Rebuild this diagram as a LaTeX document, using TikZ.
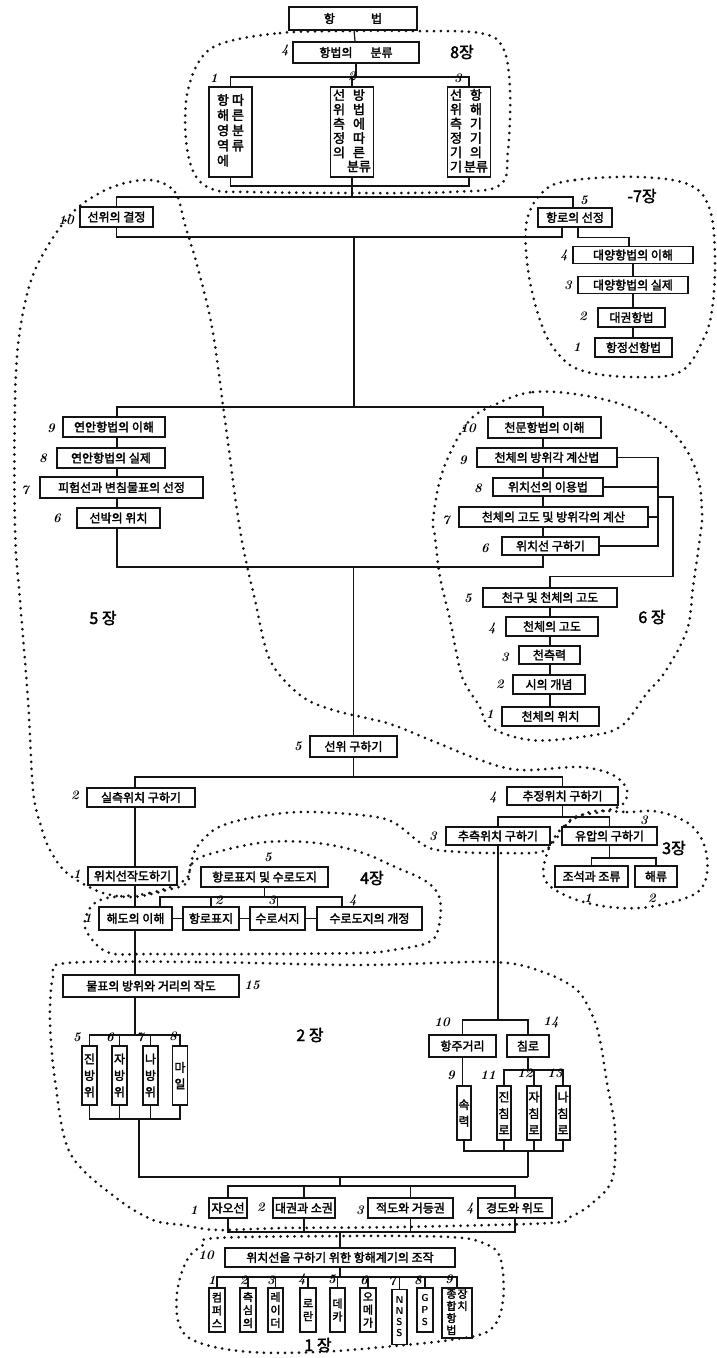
\documentclass[tikz,border=0pt]{standalone}
\usepackage{fontspec}
\newfontfamily\kr{Noto Sans CJK KR}[FakeBold=2.2]
\usetikzlibrary{backgrounds}
\definecolor{tinta}{RGB}{20,20,20}

\begin{document}
\begin{tikzpicture}[x=1pt, y=-1pt,
    caja/.style={draw=tinta, line width=1.5pt, fill=white, inner sep=1.5pt,
      minimum height=19pt, font=\kr\fontsize{12}{13}\selectfont},
    cajav/.style={caja, align=center, inner sep=1pt,
      font=\kr\fontsize{12}{16.5}\selectfont},
    cajac/.style={caja, align=center, inner sep=1pt,
      font=\kr\fontsize{11}{13}\selectfont},
    num/.style={font=\bfseries\itshape\fontsize{13}{13}\selectfont},
    jang/.style={font=\kr\fontsize{16}{16}\selectfont},
    linea/.style={draw=tinta, line width=1.2pt},
    borde/.style={draw=tinta, line width=3pt, line cap=round, dash pattern=on 0pt off 7pt}]

  \useasboundingbox (0,0) rectangle (716,1358);

  % Cabecera (항법 y su clasificación)
  \node[caja, minimum width=128, minimum height=23] (hb) at (353,18.5) {항\hspace{3em}법};
  \node[caja, minimum width=126, minimum height=21] (cls) at (356,52.5) {항법의\hspace{1.5em}분류};
  \node[caja, minimum width=43, minimum height=90, font=\kr\fontsize{13}{14}\selectfont] (v1) at (230.5,132)
    {\renewcommand\arraystretch{1.05}\begin{tabular}[t]{@{}c@{\hspace{3pt}}c@{}}항&따\\해&른\\영&분\\역&류\\에&\end{tabular}};
  \node[caja, minimum width=43, minimum height=90, font=\kr\fontsize{13}{13}\selectfont] (v2) at (352,132)
    {\renewcommand\arraystretch{0.92}\begin{tabular}[t]{@{}c@{\hspace{2pt}}c@{}}선&방\\위&법\\측&에\\정&따\\의&른\\ &분류\end{tabular}};
  \node[caja, minimum width=43, minimum height=90, font=\kr\fontsize{13}{13}\selectfont] (v3) at (469,132)
    {\renewcommand\arraystretch{0.92}\begin{tabular}[t]{@{}c@{\hspace{2pt}}c@{}}선&항\\위&해\\측&기\\정&기\\기&의\\기&분류\end{tabular}};
  \node[num] (n4a) at (285,50) {4};
  \node[num] (n1a) at (214,78) {1};
  \node[num] (n2a) at (352,76) {2};
  \node[num] (n3a) at (458,78) {3};
  \node[jang] (j8) at (462,52) {8장};

  % Selección de la posición y de la derrota
  \node[caja, minimum width=73, minimum height=20] (sw) at (116.5,217) {선위의 결정};
  \node[caja, minimum width=74] (hs) at (575,217.5) {항로의 선정};
  \node[caja, minimum width=120, minimum height=17] (dy4) at (633,255) {대양항법의 이해};
  \node[caja, minimum width=110, minimum height=17] (dy3) at (633,285) {대양항법의 실제};
  \node[caja, minimum width=67] (dk) at (631.5,317.5) {대권항법};
  \node[caja, minimum width=77] (hj) at (633.5,347.5) {항정선항법};
  \node[num] (n10a) at (66,220) {10};
  \node[num] (n5a) at (584,200) {5};
  \node[num] (n4b) at (564,255) {4};
  \node[num] (n3b) at (568,285) {3};
  \node[num] (n2b) at (583,316) {2};
  \node[num] (n1b) at (577,347) {1};
  \node[jang] (j7) at (642,196) {-7장};

  % Navegación costera (columna izquierda)
  \node[caja, minimum width=102, minimum height=20] (ya9) at (114,427) {연안항법의 이해};
  \node[caja, minimum width=108, minimum height=20] (ya8) at (111,458) {연안항법의 실제};
  \node[caja, minimum width=163, minimum height=21] (ph7) at (121.5,487.5) {피험선과 변침물표의 선정};
  \node[caja, minimum width=83, minimum height=20] (sb6) at (118.5,518) {선박의 위치};
  \node[num] (n9a) at (51,428) {9};
  \node[num] (n8a) at (43,458) {8};
  \node[num] (n7a) at (25,490) {7};
  \node[num] (n6a) at (57,518) {6};
  \node[jang] (j5) at (103,618) {5 장};

  % Navegación astronómica (columna derecha)
  \node[caja, minimum width=113, minimum height=21] (cm10) at (544.5,427.5) {천문항법의 이해};
  \node[caja, minimum width=140] (cb9) at (547,457.5) {천체의 방위각 계산법};
  \node[caja, minimum width=110, minimum height=18] (wi8) at (548,487) {위치선의 이용법};
  \node[caja, minimum width=189, minimum height=20] (cg7) at (553.5,517) {천체의 고도 및 방위각의 계산};
  \node[caja, minimum width=97, minimum height=18] (wg6) at (550.5,546) {위치선 구하기};
  \node[caja, minimum width=134] (cc5) at (550,597.5) {천구 및 천체의 고도};
  \node[caja, minimum width=92] (cg4) at (552,626.5) {천체의 고도};
  \node[caja, minimum width=61, minimum height=18] (cr3) at (549.5,655) {천측력};
  \node[caja, minimum width=72] (sg2) at (549,684.5) {시의 개념};
  \node[caja, minimum width=97] (cw1) at (550.5,716.5) {천체의 위치};
  \node[num] (n10b) at (468,428) {10};
  \node[num] (n9b) at (463,460) {9};
  \node[num] (n8b) at (478,488) {8};
  \node[num] (n7b) at (446,520) {7};
  \node[num] (n6b) at (485,548) {6};
  \node[num] (n5b) at (468,598) {5};
  \node[num] (n4c) at (492,628) {4};
  \node[num] (n3c) at (505,657) {3};
  \node[num] (n2c) at (500,684) {2};
  \node[num] (n1c) at (490,714) {1};
  \node[jang] (j6) at (652,617) {6 장};

  % Obtención de la posición
  \node[caja, minimum width=87, minimum height=21] (sg5) at (353.5,746.5) {선위 구하기};
  \node[caja, minimum width=108] (sc2) at (141,797.5) {실측위치 구하기};
  \node[caja, minimum width=111, minimum height=18] (cj4) at (562.5,796) {추정위치 구하기};
  \node[caja, minimum width=104, minimum height=18] (ch3) at (498,836) {추측위치 구하기};
  \node[caja, minimum width=95, minimum height=18] (ya3) at (609.5,836) {유압의 구하기};
  \node[caja, minimum width=73, minimum height=21] (jj) at (591.5,876.5) {조석과 조류};
  \node[caja, minimum width=42, minimum height=21] (hr) at (656,876.5) {해류};
  \node[num] (n5c) at (298,746) {5};
  \node[num] (n2d) at (75,795) {2};
  \node[num] (n4d) at (493,797) {4};
  \node[num] (n3d) at (433,836) {3};
  \node[num] (n3e) at (644,820) {3};
  \node[num] (n1d) at (588,898) {1};
  \node[num] (n2e) at (652,898) {2};
  \node[jang] (j3) at (674,848) {3장};

  % Cartas y publicaciones
  \node[caja, minimum width=89, minimum height=18] (wj1) at (132.5,876) {위치선작도하기};
  \node[caja, minimum width=127, minimum height=20] (hs5) at (264.5,877) {항로표지 및 수로도지};
  \node[caja, minimum width=73, minimum height=23] (hd1) at (135.5,918.5) {해도의 이해};
  \node[caja, minimum width=56, minimum height=23] (hp2) at (211,918.5) {항로표지};
  \node[caja, minimum width=55, minimum height=23] (ss3) at (277.5,918.5) {수로서지};
  \node[caja, minimum width=105, minimum height=23] (sg4) at (369.5,918.5) {수로도지의 개정};
  \node[num] (n1e) at (77,874) {1};
  \node[num] (n1f) at (88,918) {1};
  \node[num] (n5d) at (268,857) {5};
  \node[num] (n2f) at (219,900) {2};
  \node[num] (n3f) at (272,900) {3};
  \node[num] (n4e) at (353,900) {4};
  \node[jang] (j4) at (372,878) {4장};

  % Rumbos, distancias y demoras
  \node[caja, minimum width=176, minimum height=22] (ms15) at (151,986) {물표의 방위와 거리의 작도};
  \node[cajav, minimum width=15, minimum height=59] (jb) at (89.5,1075.5) {진\\방\\위};
  \node[cajav, minimum width=15, minimum height=59] (zb) at (119.5,1075.5) {자\\방\\위};
  \node[cajav, minimum width=15, minimum height=59] (nb) at (150.5,1075.5) {나\\방\\위};
  \node[cajav, minimum width=15, minimum height=59] (mi) at (180,1075.5) {마\\일};
  \node[caja, minimum width=67, minimum height=22] (hj10) at (462.5,1046) {항주거리};
  \node[caja, minimum width=42, minimum height=22] (cr14) at (528,1046) {침로};
  \node[cajav, minimum width=14, minimum height=54] (sr9) at (464,1113) {속\\력};
  \node[cajav, minimum width=14, minimum height=54] (jc11) at (504,1113) {진\\침\\로};
  \node[cajav, minimum width=14, minimum height=54] (zc12) at (534,1113) {자\\침\\로};
  \node[cajav, minimum width=14, minimum height=54] (nc13) at (563,1113) {나\\침\\로};
  \node[num] (n15a) at (252,985) {15};
  \node[num] (n5e) at (77,1037) {5};
  \node[num] (n6c) at (110,1037) {6};
  \node[num] (n7c) at (140,1037) {7};
  \node[num] (n8c) at (173,1036) {8};
  \node[num] (n10c) at (442,1022) {10};
  \node[num] (n14a) at (551,1022) {14};
  \node[num] (n9c) at (451,1075) {9};
  \node[num] (n11a) at (488,1075) {11};
  \node[num] (n12a) at (525,1073) {12};
  \node[num] (n13a) at (555,1073) {13};
  \node[jang] (j2) at (310,1035) {2 장};

  % Esfera terrestre
  \node[caja, minimum width=38, minimum height=20] (jo1) at (228,1208) {자오선};
  \node[caja, minimum width=62, minimum height=20] (dg2) at (304,1208) {대권과 소권};
  \node[caja, minimum width=85, minimum height=20] (jd3) at (410.5,1208) {적도와 거등권};
  \node[caja, minimum width=74, minimum height=20] (gw4) at (515,1208) {경도와 위도};
  \node[num] (n1g) at (194,1210) {1};
  \node[num] (n2g) at (261,1207) {2};
  \node[num] (n3g) at (360,1210) {3};
  \node[num] (n4f) at (470,1208) {4};

  % Instrumentos de navegación
  \node[caja, minimum width=230, minimum height=19] (wc10) at (340,1257.5) {위치선을 구하기 위한 항해계기의 조작};
  \node[cajac, minimum width=16, minimum height=44] (g1) at (217,1310) {컴\\퍼\\스};
  \node[cajac, minimum width=16, minimum height=44] (g2) at (248,1310) {측\\심\\의};
  \node[cajac, minimum width=15, minimum height=44] (g3) at (275.5,1310) {레\\이\\더};
  \node[cajac, minimum width=16, minimum height=44] (g4) at (308,1310) {로\\란};
  \node[cajac, minimum width=15, minimum height=44] (g5) at (337.5,1310) {데\\카};
  \node[cajac, minimum width=16, minimum height=44] (g6) at (368,1310) {오\\메\\가};
  \node[cajac, minimum width=15, minimum height=55, font=\bfseries\sffamily\fontsize{10}{11}\selectfont] (g7) at (399.5,1317) {N\\N\\S\\S};
  \node[cajac, minimum width=16, minimum height=44, font=\bfseries\sffamily\fontsize{10}{12}\selectfont] (g8) at (425,1310) {G\\P\\S};
  \node[cajac, minimum width=30, minimum height=50] (g9) at (457,1313)
    {\renewcommand\arraystretch{0.75}\begin{tabular}[t]{@{}c@{\hspace{1pt}}c@{}}종&장\\합&치\\항&\\법&\end{tabular}};
  \node[num] (n10d) at (206,1255) {10};
  \node[num] (n1h) at (212,1280) {1};
  \node[num] (n2h) at (244,1280) {2};
  \node[num] (n3h) at (271,1280) {3};
  \node[num] (n4g) at (302,1279) {4};
  \node[num] (n5f) at (332,1279) {5};
  \node[num] (n6d) at (364,1280) {6};
  \node[num] (n7d) at (392,1281) {7};
  \node[num] (n8d) at (418,1280) {8};
  \node[num] (n9d) at (449,1279) {9};
  \node[jang] (j1) at (318,1345) {1 장};

  \begin{scope}[on background layer]
    % Líneas de la parte superior
    \coordinate (b1) at (0,77);
    \coordinate (b2) at (0,186);
    \coordinate (t1) at (352,197);
    \coordinate (t2) at (354,237);
    \draw[linea] (hb) -- (cls);
    \draw[linea] (cls.south) -- (cls.south |- b1);
    \draw[linea] (v1.north) |- (b1 -| v3) -- (v3.north);
    \draw[linea] (v2.north) -- (v2 |- b1);
    \draw[linea] (v1.south) |- (b2 -| v3) -- (v3.south);
    \draw[linea] (v2.south) -- (v2 |- b2) -- (t1);
    \draw[linea] (sw.north) |- (t1) -| ([xshift=-2pt]hs.north);
    \draw[linea] (sw.south) |- (t2);
    \draw[linea] ([xshift=-13pt]hs.south) |- (t2);
    \draw[linea] ([xshift=3pt]hs.south) |- ([yshift=8pt,xshift=-4pt]dy4.north) -- ([xshift=-4pt]dy4.north);
    \draw[linea] (dy4.south) -- (dy4.south |- hj.north);

    % Rectángulo de navegación costera y astronómica
    \coordinate (cl) at (117,407);
    \coordinate (cr) at (543,567);
    \draw[linea] (t2) -- (t2 |- cl);
    \draw[linea] (cl) rectangle (cr);
    \coordinate (k1) at (658,0);
    \coordinate (k2) at (673,497);
    \draw[linea] (cb9.east) -- (cb9.east -| k1) -- (wg6.east -| k1) -- (wg6.east);
    \draw[linea] (wi8.east) -- (wi8.east -| k1);
    \draw[linea] (cg7.east) -- (cg7.east -| k1);
    \draw[linea] (k2 -| k1) -- (k2) |- ([yshift=11pt]cc5.north) -- (cc5.north);
    \draw[linea] (cc5.south) -- (cc5.south |- cw1.north);

    % Obtención de la posición
    \coordinate (b5) at (0,777);
    \coordinate (cl2) at (135,0);
    \draw[linea] (cr -| sg5) -- (sg5.north);
    \draw[linea] (sg5.south) -- (sg5.south |- b5);
    \draw[linea] (cl2 |- sc2.north) |- (cj4.north |- b5) -- (cj4.north);
    \draw[linea] (cl2 |- sc2.south) -- (cl2 |- ms15.north);
    \coordinate (b9) at (0,817);
    \coordinate (b10) at (0,858);
    \draw[linea] (cj4.south) -- (cj4.south |- b9);
    \draw[linea] (ch3.north) |- (ya3.north |- b9) -- (ya3.north);
    \draw[linea] (ya3.south) -- (ya3.south |- b10);
    \draw[linea] (jj.north) |- (hr.north |- b10) -- (hr.north);

    % Cartas y publicaciones
    \coordinate (b8) at (0,897);
    \coordinate (d1) at (160,0);
    \coordinate (d4) at (342,0);
    \draw[linea] (hs5.south) -- (hs5.south |- b8);
    \draw[linea] (d1 |- hd1.north) |- (d4 |- b8) -- (d4 |- sg4.north);
    \draw[linea] (hp2.north) -- (hp2.north |- b8);
    \draw[linea] (ss3.north) -- (ss3.north |- b8);
    \draw[linea] (hd1.east) -- (hp2.west);
    \draw[linea] (hp2.east) -- (ss3.west);
    \draw[linea] (ss3.east) -- (sg4.west);

    % Demoras, rumbos y distancias
    \coordinate (b6) at (0,1035);
    \coordinate (b7) at (0,1119);
    \coordinate (cl3) at (139,0);
    \draw[linea] (cl2 |- ms15.south) -- (cl2 |- b6);
    \draw[linea] (jb.north) |- (mi.north |- b6) -- (mi.north);
    \draw[linea] (zb.north) -- (zb.north |- b6);
    \draw[linea] (nb.north) -- (nb.north |- b6);
    \draw[linea] (jb.south) |- (mi.south |- b7) -- (mi.south);
    \draw[linea] (zb.south) -- (zb.south |- b7);
    \draw[linea] (nb.south) -- (nb.south |- b7);
    \coordinate (b11) at (0,1020);
    \coordinate (b12) at (0,1070);
    \coordinate (b13) at (0,1151);
    \coordinate (b14) at (0,1177);
    \draw[linea] (ch3.south) -- (ch3.south |- b11);
    \draw[linea] (hj10.north) |- (cr14.north |- b11) -- (cr14.north);
    \draw[linea] (hj10.south) -- (hj10.south |- sr9.north);
    \draw[linea] (cr14.south) -- (cr14.south |- b12);
    \draw[linea] (jc11.north) |- (nc13.north |- b12) -- (nc13.north);
    \draw[linea] (zc12.north) -- (zc12.north |- b12);
    \draw[linea] (sr9.south) |- (nc13.south |- b13) -- (nc13.south);
    \draw[linea] (jc11.south) -- (jc11.south |- b13);
    \draw[linea] (zc12.south) -- (zc12.south |- b13);
    \draw[linea] (cr14 |- b13) -- (cr14 |- b14);
    \draw[linea] (cl3 |- b7) |- (cr14 |- b14);

    % Esfera terrestre e instrumentos
    \coordinate (b15) at (0,1186);
    \coordinate (b16) at (0,1232);
    \coordinate (b17) at (0,1277);
    \draw[linea] (wc10 |- b14) -- (wc10 |- b15);
    \draw[linea] (jo1.north) |- (gw4.north |- b15) -- (gw4.north);
    \draw[linea] (dg2.north) -- (dg2.north |- b15);
    \draw[linea] (jd3.north) -- (jd3.north |- b15);
    \draw[linea] (jo1.south) |- (gw4.south |- b16) -- (gw4.south);
    \draw[linea] (dg2.south) -- (dg2.south |- b16);
    \draw[linea] (jd3.south) -- (jd3.south |- b16);
    \draw[linea] (wc10 |- b16) -- (wc10.north);
    \draw[linea] (wc10.south) -- (wc10.south |- b17);
    \draw[linea] (g1.north) |- (g9.north |- b17) -- (g9.north);
    \foreach \g in {g2,g3,g4,g5,g6,g7,g8}
      \draw[linea] (\g.north) -- (\g.north |- b17);
  \end{scope}

  % Contornos punteados de los capítulos
  \draw[borde] plot[smooth cycle, tension=0.6] coordinates {(223,43) (280,33) (347,31) (413,31) (480,33) (503,48) (510,90) (508,150) (500,185) (450,192) (350,193) (250,192) (215,190) (195,175) (186,140) (187,95) (200,60)};
  \draw[borde] plot[smooth cycle, tension=0.6] coordinates {(545,190) (575,180) (640,177) (690,185) (710,210) (715,260) (712,310) (703,340) (680,372) (630,377) (580,370) (555,350) (540,320) (528,270) (527,220)};
  \draw[borde] plot[smooth cycle, tension=0.55] coordinates {(150,180) (175,192) (185,225) (197,265) (212,327) (225,420) (240,530) (255,600) (270,660) (300,695) (333,710) (387,723) (423,737) (480,760) (520,770) (580,767) (613,775) (627,790) (622,805) (600,812) (573,818) (555,840) (540,852) (493,853) (460,852) (427,847) (393,822) (360,815) (300,812) (250,818) (217,828) (197,847) (190,867) (187,883) (167,890) (133,897) (100,892) (67,873) (50,850) (40,823) (33,790) (28,700) (20,600) (15,530) (15,400) (20,330) (35,270) (70,215) (110,188)};
  \draw[borde] plot[smooth cycle, tension=0.6] coordinates {(490,407) (533,392) (593,397) (643,413) (677,437) (697,473) (702,513) (700,537) (693,587) (687,630) (665,672) (647,693) (620,727) (580,737) (530,740) (490,727) (480,707) (467,687) (460,670) (450,620) (440,577) (435,537) (433,520) (440,480) (453,447) (470,420)};
  \draw[borde] plot[smooth cycle, tension=0.6] coordinates {(100,900) (150,893) (185,880) (193,862) (217,852) (267,842) (317,843) (360,852) (393,866) (427,882) (440,900) (438,930) (427,943) (393,950) (360,953) (250,954) (150,954) (110,953) (90,937) (85,920)};
  \draw[borde] plot[smooth cycle, tension=0.6] coordinates {(590,812) (627,812) (660,812) (693,827) (707,857) (700,890) (660,905) (620,908) (577,900) (547,883) (545,860) (560,830)};
  \draw[borde] plot[smooth cycle, tension=0.55] coordinates {(67,963) (200,962) (360,965) (493,962) (543,972) (577,990) (593,1017) (600,1040) (607,1083) (615,1130) (612,1180) (590,1205) (570,1217) (550,1223) (400,1227) (283,1228) (217,1230) (183,1225) (153,1220) (115,1197) (70,1153) (55,1080) (50,1020) (53,977)};
  \draw[borde] plot[smooth cycle, tension=0.6] coordinates {(217,1238) (350,1236) (450,1237) (483,1243) (500,1257) (503,1300) (490,1330) (450,1340) (383,1347) (317,1352) (250,1352) (200,1343) (180,1327) (177,1293) (187,1260) (203,1245)};
\end{tikzpicture}
\end{document}
